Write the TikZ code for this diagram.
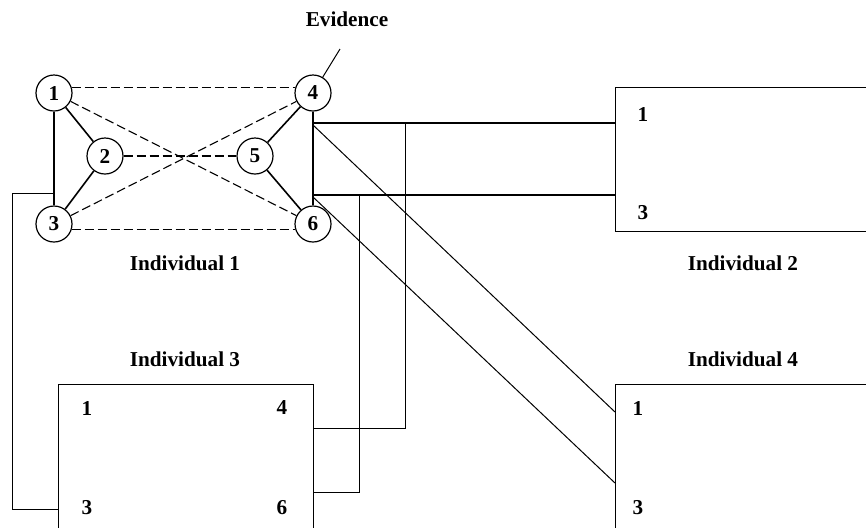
\documentclass[tikz,border=0pt]{standalone}
\usepackage{fontspec}
\setmainfont{Liberation Serif}
\begin{document}
\begin{tikzpicture}
[x=0.5pt, y=-0.5pt, font=\fontsize{10.6}{12}\selectfont\bfseries, line width=0.5pt,
allele/.style={circle, draw, line width=0.6pt, inner sep=0pt, minimum size=18pt},
person/.style={rectangle, draw, line width=0.6pt, anchor=north west, inner sep=0pt},
link/.style={line width=0.8pt},
ibd/.style={line width=0.55pt, dash pattern=on 4.5pt off 2pt},
bus/.style={line width=1.4pt},
wire/.style={line width=0.5pt}]

\useasboundingbox (0,0) rectangle (866,527);
\clip (0,0) rectangle (866,527);

\node[allele] (c1) at (54,93) {1};
\node[allele] (c2) at (105,156) {2};
\node[allele] (c3) at (54,224) {3};
\node[allele] (c4) at (313,93) {4};
\node[allele] (c5) at (255,156) {5};
\node[allele] (c6) at (313,224) {6};

\node[person, minimum width=150pt, minimum height=72pt] (ind2) at (615,87) {};
\node[person, minimum width=127.5pt, minimum height=100pt] (ind3) at (58,384) {};
\node[person, minimum width=150pt, minimum height=100pt] (ind4) at (615,384) {};

\node (evidence) at (347,19) {Evidence};
\node (name1) at (185,263) {Individual 1};
\node (name2) at (743,263) {Individual 2};
\node (name3) at (185,359) {Individual 3};
\node (name4) at (743,359) {Individual 4};

\node (l21) at (643,114) {1};
\node (l23) at (643,213) {3};
\node (l31) at (87,408) {1};
\node (l34) at (282,408) {4};
\node (l33) at (87,508) {3};
\node (l36) at (282,508) {6};
\node (l41) at (638,408) {1};
\node (l43) at (638,508) {3};

\coordinate (ev) at (340,49);
\coordinate (a1) at (313,123);
\coordinate (a3) at (313,195);
\coordinate (b4) at (405,123);
\coordinate (b6) at (359,195);
\coordinate (t13) at (54,193);
\coordinate (p34) at (313,428);
\coordinate (p36) at (313,492);
\coordinate (p33) at (58,509);
\coordinate (p41) at (615,412);
\coordinate (p43) at (615,483);

% individual 1
\draw[link] (c1) -- (c3);
\draw[link] (c1) -- (c2);
\draw[link] (c2) -- (c3);
\draw[link] (c4) -- (c5);
\draw[link] (c5) -- (c6);
\draw[bus] (c4) -- (c6);
\draw[ibd] (c1.18) -- (c4.162);
\draw[ibd] (c3.-18) -- (c6.-162);
\draw[ibd] (c2) -- (c5);
\draw[ibd] (c1) -- (c6);
\draw[ibd] (c3) -- (c4);
\draw[wire] (c4) -- (ev);

% to individual 2
\draw[bus] (a1) -- (a1 -| ind2.west);
\draw[bus] (a3) -- (a3 -| ind2.west);

% to individual 3
\draw[wire] (b4) |- (p34);
\draw[wire] (b6) |- (p36);
\draw[wire] (t13) -- ++(-42,0) |- (p33);

% to individual 4
\draw[wire] ([yshift=-1pt]a1) -- (p41);
\draw[wire] ([yshift=-1pt]a3) -- (p43);
\end{tikzpicture}
\end{document}
